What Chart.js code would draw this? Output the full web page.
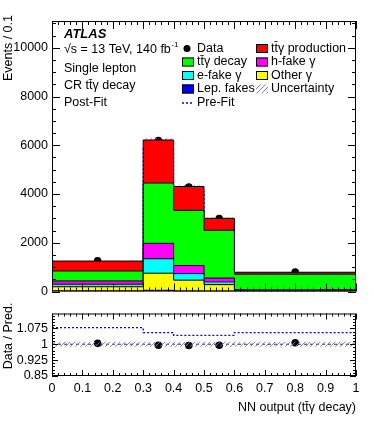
<!DOCTYPE html>
<html>
<head>
<meta charset="utf-8">
<script src="https://cdn.jsdelivr.net/npm/chart.js@4/dist/chart.umd.min.js"></script>
<style>
  html, body { margin: 0; padding: 0; background: #fff; }
  #wrap { position: relative; width: 374px; height: 421px; }
  #main { position: absolute; left: 0; top: 0; }
  #ratio { position: absolute; left: 0; top: 302px; }
</style>
</head>
<body>
<div id="wrap">
  <canvas id="main" width="374" height="303"></canvas>
  <canvas id="ratio" width="374" height="119"></canvas>
</div>
<script>
// --- datos ---
const binEdges = [0, 0.3, 0.4, 0.5, 0.6, 1.0];
const binCenters = [0.15, 0.35, 0.45, 0.55, 0.8];

// componentes del stack (de abajo hacia arriba)
const lepFakes   = [25, 50, 20, 15, 20];
const otherGamma = [170, 701, 446, 266, 30];
const eFake      = [105, 593, 269, 114, 10];
const hFake      = [135, 633, 332, 158, 10];
const ttyDecay   = [407, 2474, 2265, 1961, 640];
const ttyProd    = [407, 1767, 977, 490, 80];

const dataCounts = [1260, 6190, 4290, 2990, 800];
const preFit     = [1170, 5862, 4095, 2886, 751];
const relUnc     = [0.012, 0.012, 0.012, 0.012, 0.012];

const ratioData   = [1.004, 0.995, 0.994, 0.995, 1.007];
const ratioPreFit = [1.078, 1.055, 1.042, 1.042, 1.055];

const xTicks     = [0, 0.1, 0.2, 0.3, 0.4, 0.5, 0.6, 0.7, 0.8, 0.9, 1];
const yTicks     = [0, 2000, 4000, 6000, 8000, 10000];
const ratioTicks = [0.85, 0.925, 1, 1.075];

const FONT = '"Liberation Sans", Arial, Helvetica, sans-serif';
const TT = 't\u0074\u0304\u03b3'; // tt̄γ

// histograma como linea escalonada
function steps(vals) {
  return binEdges.map((x, i) => ({ x: x, y: vals[Math.min(i, vals.length - 1)] }));
}

function hatch(color) {
  const c = document.createElement('canvas');
  c.width = 5; c.height = 5;
  const g = c.getContext('2d');
  g.strokeStyle = color;
  g.lineWidth = 1;
  g.beginPath();
  g.moveTo(0, 5); g.lineTo(5, 0);
  g.moveTo(-1, 1); g.lineTo(1, -1);
  g.moveTo(4, 6); g.lineTo(6, 4);
  g.stroke();
  return g.createPattern(c, 'repeat');
}
const hatchFill = hatch('rgba(110,110,240,0.85)');

// stack acumulado
const components = [
  { vals: lepFakes,   color: '#0000ff' },
  { vals: otherGamma, color: '#ffff00' },
  { vals: eFake,      color: '#00ffff' },
  { vals: hFake,      color: '#ff00ff' },
  { vals: ttyDecay,   color: '#00ff00' },
  { vals: ttyProd,    color: '#ff0000' }
];
let running = [0, 0, 0, 0, 0];
const stackSets = components.map((c, k) => {
  running = running.map((r, i) => r + c.vals[i]);
  return {
    data: steps(running.slice()),
    stepped: true,
    borderColor: '#000',
    borderWidth: 1,
    backgroundColor: c.color,
    fill: k === 0 ? 'origin' : '-1',
    pointRadius: 0
  };
});
const total = running.slice();

// ticks hacia adentro en los cuatro lados, estilo ROOT
function frameTicks(cfg) {
  return {
    id: 'frameTicks',
    afterDatasetsDraw(chart) {
      const { ctx, chartArea: a, scales: { x, y } } = chart;
      ctx.save();
      ctx.strokeStyle = '#000';
      ctx.lineWidth = 1;
      ctx.beginPath();
      for (let i = 0; i <= 50; i++) {
        const px = Math.round(x.getPixelForValue(i / 50)) + 0.5;
        const len = i % 5 === 0 ? cfg.xMajor : cfg.xMinor;
        ctx.moveTo(px, a.bottom); ctx.lineTo(px, a.bottom - len);
        ctx.moveTo(px, a.top); ctx.lineTo(px, a.top + len);
      }
      const n = Math.floor((y.max - cfg.yStart) / cfg.yStep + 1e-6);
      for (let i = 0; i <= n; i++) {
        const v = cfg.yStart + i * cfg.yStep;
        const py = Math.round(y.getPixelForValue(v)) + 0.5;
        const len = i % cfg.yEvery === 0 ? cfg.yMajor : cfg.yMinor;
        ctx.moveTo(a.left, py); ctx.lineTo(a.left + len, py);
        ctx.moveTo(a.right, py); ctx.lineTo(a.right - len, py);
      }
      ctx.stroke();
      ctx.strokeRect(a.left + 0.5, a.top + 0.5, a.right - a.left - 1, a.bottom - a.top - 1);
      ctx.restore();
    }
  };
}

// textos y leyenda del panel principal
const mainText = {
  id: 'mainText',
  afterDraw(chart) {
    const ctx = chart.ctx;
    ctx.save();
    ctx.fillStyle = '#000';
    ctx.textBaseline = 'middle';
    ctx.textAlign = 'left';
    ctx.font = 'italic bold 13px ' + FONT;
    ctx.fillText('ATLAS', 64, 34);
    ctx.font = '12.5px ' + FONT;
    const s1 = '\u221as = 13 TeV, 140 fb';
    ctx.fillText(s1, 64, 50);
    const w1 = ctx.measureText(s1).width;
    ctx.font = '8px ' + FONT;
    ctx.fillText('-1', 64 + w1 + 0.5, 45);
    ctx.font = '12.5px ' + FONT;
    ctx.fillText('Single lepton', 64, 69);
    ctx.fillText('CR ' + TT + ' decay', 64, 86);
    ctx.fillText('Post-Fit', 64, 103);

    // titulo eje y
    ctx.save();
    ctx.translate(9, 15);
    ctx.rotate(-Math.PI / 2);
    ctx.textAlign = 'right';
    ctx.fillText('Events / 0.1', 0, 0);
    ctx.restore();

    // leyenda
    const rows = [48.5, 62, 75.5, 89, 102.5];
    const col1 = [
      { kind: 'dot', label: 'Data' },
      { kind: 'box', color: '#00ff00', label: TT + ' decay' },
      { kind: 'box', color: '#00ffff', label: 'e-fake \u03b3' },
      { kind: 'box', color: '#0000ff', label: 'Lep. fakes' },
      { kind: 'dash', label: 'Pre-Fit' }
    ];
    const col2 = [
      { kind: 'box', color: '#ff0000', label: TT + ' production' },
      { kind: 'box', color: '#ff00ff', label: 'h-fake \u03b3' },
      { kind: 'box', color: '#ffff00', label: 'Other \u03b3' },
      { kind: 'hatch', label: 'Uncertainty' }
    ];
    function item(it, bx, tx, cy) {
      if (it.kind === 'box' || it.kind === 'hatch') {
        ctx.fillStyle = it.kind === 'box' ? it.color : hatchFill;
        ctx.fillRect(bx, cy - 4.5, 12, 9);
        if (it.kind === 'box') {
          ctx.strokeStyle = '#000';
          ctx.lineWidth = 1;
          ctx.strokeRect(bx + 0.5, cy - 4, 11, 8);
        }
      } else if (it.kind === 'dot') {
        ctx.fillStyle = '#000';
        ctx.beginPath();
        ctx.arc(bx + 5, cy, 3.5, 0, Math.PI * 2);
        ctx.fill();
      } else {
        ctx.strokeStyle = '#0000ff';
        ctx.lineWidth = 1.3;
        ctx.setLineDash([2, 2]);
        ctx.beginPath();
        ctx.moveTo(bx, cy + 0.5); ctx.lineTo(bx + 12, cy + 0.5);
        ctx.stroke();
        ctx.setLineDash([]);
      }
      ctx.fillStyle = '#000';
      ctx.fillText(it.label, tx, cy);
    }
    col1.forEach((it, i) => item(it, 182, 197, rows[i]));
    col2.forEach((it, i) => item(it, 256, 271, rows[i]));
    ctx.restore();
  }
};

const ratioText = {
  id: 'ratioText',
  afterDraw(chart) {
    const ctx = chart.ctx;
    ctx.save();
    ctx.fillStyle = '#000';
    ctx.font = '12.5px ' + FONT;
    ctx.textBaseline = 'middle';
    ctx.textAlign = 'right';
    ctx.fillText('NN output (' + TT + ' decay)', 356, 106);
    ctx.translate(9, 34);
    ctx.rotate(-Math.PI / 2);
    ctx.textAlign = 'center';
    ctx.fillText('Data / Pred.', 0, 0);
    ctx.restore();
  }
};

Chart.defaults.font.family = FONT;
Chart.defaults.font.size = 12.5;
Chart.defaults.color = '#000';

new Chart(document.getElementById('main'), {
  type: 'line',
  data: {
    datasets: [
      ...stackSets,
      {
        data: steps(total.map((t, i) => t * (1 - relUnc[i]))),
        stepped: true, borderWidth: 0, pointRadius: 0, fill: false
      },
      {
        data: steps(total.map((t, i) => t * (1 + relUnc[i]))),
        stepped: true, borderWidth: 0, pointRadius: 0,
        backgroundColor: hatchFill, fill: '-1'
      },
      {
        data: steps(preFit),
        stepped: true, borderColor: '#0000ff', borderWidth: 1.3,
        borderDash: [2, 2], pointRadius: 0, fill: false
      },
      {
        data: binCenters.map((x, i) => ({ x: x, y: dataCounts[i] })),
        showLine: false, pointRadius: 3.8, pointBorderWidth: 0,
        pointBackgroundColor: '#000', borderColor: '#000'
      }
    ]
  },
  options: {
    responsive: false,
    animation: false,
    events: [],
    layout: { padding: { top: 21, right: 18, bottom: 1, left: 0 } },
    plugins: { legend: { display: false }, tooltip: { enabled: false } },
    scales: {
      x: { type: 'linear', min: 0, max: 1, display: false },
      y: {
        min: 0, max: 11100,
        grid: { display: false, drawTicks: false },
        border: { display: false },
        afterBuildTicks: s => { s.ticks = yTicks.map(v => ({ value: v })); },
        afterFit: s => { s.width = 52; },
        ticks: { padding: 4, callback: v => String(v) }
      }
    }
  },
  plugins: [frameTicks({ xMajor: 8, xMinor: 4, yStart: 0, yStep: 500, yEvery: 4, yMajor: 8, yMinor: 4 }), mainText]
});

new Chart(document.getElementById('ratio'), {
  type: 'line',
  data: {
    datasets: [
      {
        data: steps(relUnc.map(u => 1 - u)),
        stepped: true, borderWidth: 0, pointRadius: 0, fill: false
      },
      {
        data: steps(relUnc.map(u => 1 + u)),
        stepped: true, borderWidth: 0, pointRadius: 0,
        backgroundColor: hatchFill, fill: '-1'
      },
      {
        data: steps([1, 1, 1, 1, 1]),
        borderColor: '#333', borderWidth: 1, borderDash: [3, 3],
        pointRadius: 0, fill: false
      },
      {
        data: steps(ratioPreFit),
        stepped: true, borderColor: '#0000ff', borderWidth: 1.3,
        borderDash: [2, 2], pointRadius: 0, fill: false
      },
      {
        data: binCenters.map((x, i) => ({ x: x, y: ratioData[i] })),
        showLine: false, pointRadius: 3.8, pointBorderWidth: 0,
        pointBackgroundColor: '#000', borderColor: '#000'
      }
    ]
  },
  options: {
    responsive: false,
    animation: false,
    events: [],
    layout: { padding: { top: 1, right: 18, bottom: 0, left: 0 } },
    plugins: { legend: { display: false }, tooltip: { enabled: false } },
    scales: {
      x: {
        type: 'linear', min: 0, max: 1,
        grid: { display: false, drawTicks: false },
        border: { display: false },
        afterBuildTicks: s => { s.ticks = xTicks.map(v => ({ value: v })); },
        afterFit: s => { s.height = 45; },
        ticks: { padding: 5, autoSkip: false, maxRotation: 0, callback: v => String(v) }
      },
      y: {
        min: 0.85, max: 1.145,
        grid: { display: false, drawTicks: false },
        border: { display: false },
        afterBuildTicks: s => { s.ticks = ratioTicks.map(v => ({ value: v })); },
        afterFit: s => { s.width = 52; },
        ticks: { padding: 4, callback: v => String(v) }
      }
    }
  },
  plugins: [frameTicks({ xMajor: 6, xMinor: 3, yStart: 0.85, yStep: 0.015, yEvery: 5, yMajor: 6, yMinor: 3 }), ratioText]
});
</script>
</body>
</html>
